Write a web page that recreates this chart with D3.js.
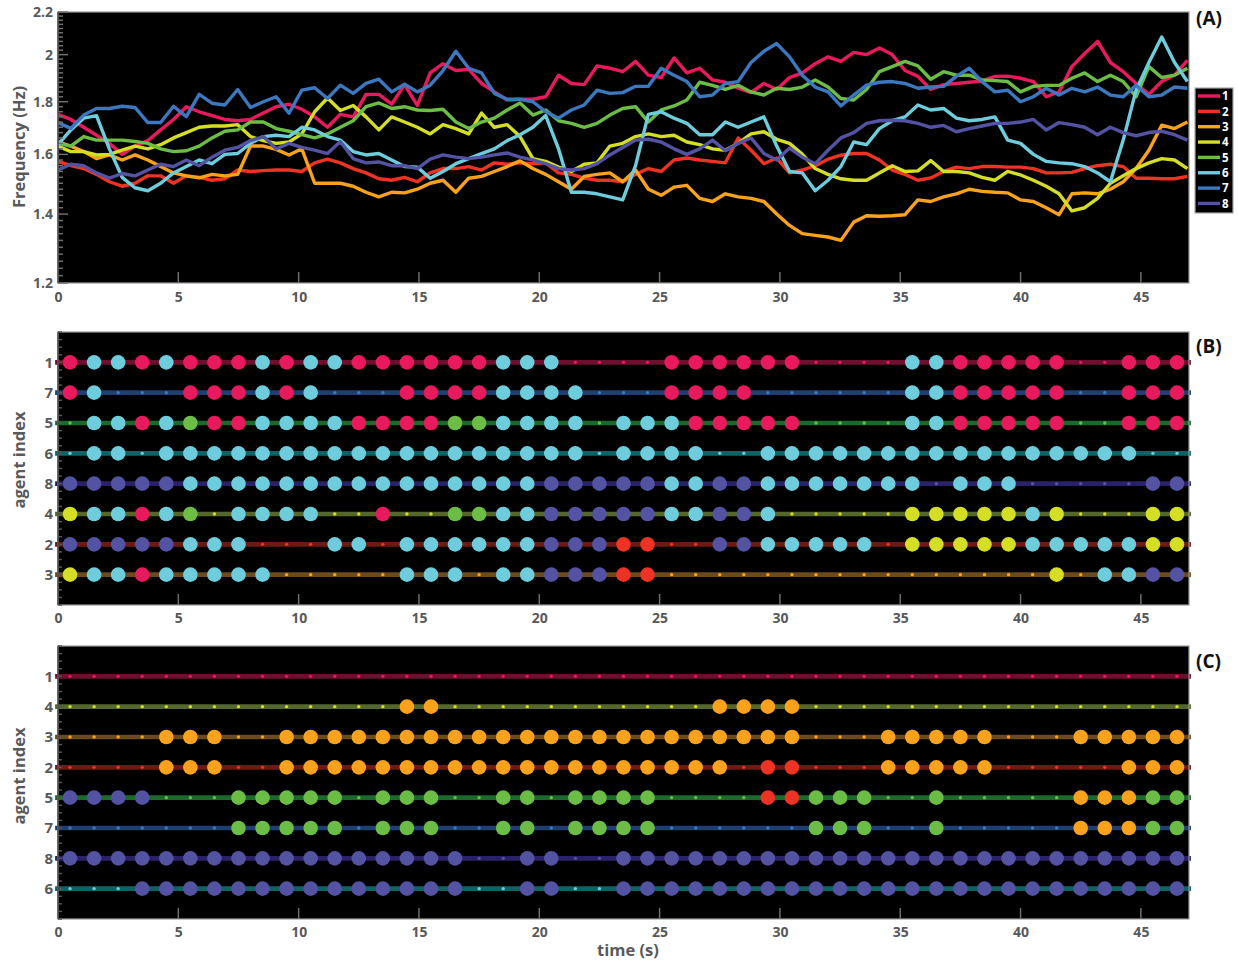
<!DOCTYPE html>
<html>
<head>
<meta charset="utf-8">
<script src="https://cdn.jsdelivr.net/npm/d3@7"></script>
<style>
  body { margin: 0; background: #fff; }
  svg { display: block; }
  text { font-family: "Open Sans", "DejaVu Sans", sans-serif; font-weight: 700; }
</style>
</head>
<body>
<svg id="chart" width="1238" height="963"></svg>
<script>
// ---- agents -------------------------------------------------------------
const agentIds = [1, 2, 3, 4, 5, 6, 7, 8];
const agentColors = ["#e8195c", "#ee3224", "#faa21b", "#d4de24", "#6cbd45", "#6dcddc", "#3b78bf", "#5352a3"];
const trackColors = ["#6d0f2f", "#6e1a12", "#6d4a1c", "#56672b", "#1b6a2c", "#0e6464", "#1f3f72", "#2a2268"];

// ---- panel A: instantaneous frequency of each agent (Hz), one sample every 8/15 s
const sampleStep = 8 / 15;
const freqAgent1 = [1.75,1.73,1.70,1.67,1.64,1.60,1.63,1.65,1.69,1.73,
  1.78,1.76,1.745,1.73,1.725,1.73,1.755,1.78,1.79,1.77,
  1.74,1.70,1.75,1.74,1.83,1.83,1.79,1.87,1.785,1.92,
  1.96,1.93,1.935,1.875,1.84,1.807,1.81,1.81,1.82,1.91,
  1.875,1.87,1.95,1.94,1.925,1.97,1.91,1.90,1.985,1.92,
  1.94,1.89,1.88,1.855,1.837,1.875,1.85,1.90,1.92,1.96,
  1.99,1.97,2.01,2.0,2.03,2.0,1.93,1.905,1.85,1.87,
  1.875,1.88,1.885,1.905,1.906,1.897,1.883,1.82,1.84,1.947,
  2.005,2.06,1.965,1.925,1.875,1.83,1.883,1.91,1.975];
const freqAgent2 = [1.575,1.56,1.55,1.53,1.505,1.49,1.50,1.525,1.525,1.50,
  1.525,1.52,1.51,1.515,1.545,1.54,1.543,1.545,1.545,1.54,
  1.57,1.583,1.57,1.55,1.535,1.515,1.51,1.52,1.505,1.535,
  1.55,1.55,1.557,1.545,1.57,1.565,1.57,1.567,1.57,1.535,
  1.53,1.517,1.51,1.51,1.505,1.53,1.55,1.54,1.58,1.587,
  1.58,1.575,1.57,1.66,1.615,1.567,1.587,1.535,1.545,1.56,
  1.583,1.597,1.603,1.603,1.58,1.545,1.53,1.51,1.518,1.54,
  1.555,1.55,1.557,1.557,1.555,1.555,1.55,1.535,1.535,1.537,
  1.55,1.56,1.565,1.557,1.517,1.517,1.515,1.515,1.523];
const freqAgent3 = [1.645,1.63,1.61,1.585,1.598,1.58,1.598,1.58,1.557,1.535,
  1.525,1.518,1.53,1.525,1.53,1.63,1.63,1.618,1.598,1.62,
  1.50,1.50,1.50,1.49,1.47,1.455,1.47,1.468,1.48,1.50,
  1.51,1.47,1.517,1.523,1.54,1.557,1.577,1.55,1.53,1.505,
  1.48,1.523,1.53,1.535,1.505,1.545,1.48,1.46,1.487,1.493,
  1.45,1.44,1.465,1.455,1.45,1.44,1.40,1.365,1.34,1.335,
  1.33,1.32,1.375,1.395,1.393,1.395,1.398,1.445,1.44,1.455,
  1.465,1.48,1.473,1.47,1.468,1.445,1.44,1.42,1.398,1.465,
  1.468,1.465,1.48,1.505,1.55,1.615,1.708,1.695,1.72];
const freqAgent4 = [1.63,1.61,1.61,1.598,1.60,1.615,1.63,1.62,1.635,1.66,
  1.68,1.70,1.705,1.705,1.71,1.665,1.65,1.64,1.645,1.675,
  1.76,1.815,1.765,1.785,1.74,1.69,1.74,1.72,1.70,1.675,
  1.71,1.695,1.675,1.755,1.70,1.71,1.665,1.585,1.575,1.555,
  1.54,1.565,1.57,1.63,1.64,1.665,1.675,1.665,1.67,1.645,
  1.635,1.62,1.615,1.64,1.675,1.683,1.655,1.64,1.60,1.55,
  1.53,1.515,1.51,1.51,1.535,1.56,1.54,1.542,1.578,1.54,
  1.54,1.535,1.52,1.51,1.54,1.528,1.51,1.49,1.465,1.41,
  1.42,1.45,1.50,1.525,1.55,1.57,1.585,1.58,1.55];
const freqAgent5 = [1.64,1.63,1.665,1.652,1.652,1.652,1.647,1.64,1.62,1.61,
  1.613,1.63,1.66,1.685,1.69,1.72,1.72,1.695,1.685,1.672,
  1.66,1.675,1.70,1.725,1.78,1.795,1.773,1.78,1.767,1.765,
  1.77,1.72,1.695,1.72,1.735,1.767,1.795,1.747,1.767,1.725,
  1.715,1.70,1.715,1.747,1.773,1.78,1.72,1.767,1.783,1.807,
  1.88,1.867,1.85,1.867,1.84,1.827,1.855,1.85,1.86,1.89,
  1.86,1.813,1.807,1.85,1.925,1.947,1.97,1.95,1.893,1.925,
  1.91,1.91,1.89,1.887,1.883,1.84,1.863,1.867,1.867,1.897,
  1.92,1.883,1.91,1.883,1.82,1.947,1.90,1.91,1.94];
const freqAgent6 = [1.635,1.69,1.735,1.745,1.62,1.52,1.485,1.475,1.50,1.535,
  1.557,1.58,1.567,1.60,1.603,1.64,1.665,1.67,1.665,1.70,
  1.69,1.665,1.652,1.61,1.598,1.603,1.58,1.557,1.555,1.517,
  1.54,1.567,1.585,1.603,1.62,1.65,1.672,1.70,1.745,1.62,
  1.47,1.47,1.465,1.455,1.445,1.56,1.75,1.76,1.735,1.715,
  1.672,1.672,1.72,1.70,1.72,1.74,1.63,1.54,1.535,1.475,
  1.51,1.557,1.645,1.635,1.695,1.725,1.74,1.787,1.767,1.773,
  1.735,1.725,1.73,1.74,1.652,1.64,1.60,1.575,1.57,1.567,
  1.557,1.535,1.505,1.652,1.847,1.965,2.08,1.965,1.883];
const freqAgent7 = [1.718,1.696,1.747,1.773,1.773,1.782,1.777,1.718,1.718,1.782,
  1.741,1.83,1.794,1.787,1.85,1.777,1.80,1.82,1.754,1.847,
  1.857,1.813,1.868,1.834,1.875,1.893,1.84,1.872,1.84,1.868,
  1.93,2.015,1.94,1.92,1.834,1.81,1.81,1.80,1.76,1.735,
  1.767,1.787,1.847,1.834,1.837,1.863,1.863,1.94,1.91,1.883,
  1.82,1.827,1.875,1.883,1.965,2.015,2.05,1.99,1.91,1.86,
  1.84,1.783,1.827,1.868,1.88,1.883,1.875,1.855,1.86,1.863,
  1.905,1.94,1.883,1.84,1.847,1.80,1.82,1.855,1.827,1.855,
  1.84,1.86,1.827,1.82,1.868,1.82,1.827,1.86,1.855];
const freqAgent8 = [1.545,1.565,1.56,1.535,1.517,1.533,1.525,1.545,1.565,1.557,
  1.58,1.56,1.59,1.615,1.625,1.65,1.665,1.62,1.64,1.625,
  1.615,1.603,1.647,1.585,1.57,1.573,1.56,1.56,1.55,1.583,
  1.598,1.59,1.585,1.59,1.598,1.605,1.59,1.58,1.567,1.55,
  1.545,1.55,1.567,1.598,1.625,1.652,1.655,1.645,1.62,1.60,
  1.62,1.652,1.613,1.64,1.66,1.603,1.58,1.623,1.59,1.567,
  1.615,1.66,1.68,1.715,1.725,1.727,1.725,1.715,1.70,1.707,
  1.683,1.695,1.705,1.715,1.715,1.72,1.73,1.69,1.718,1.71,
  1.70,1.672,1.70,1.68,1.668,1.68,1.685,1.672,1.652];
const freqSeries = [freqAgent1, freqAgent2, freqAgent3, freqAgent4, freqAgent5, freqAgent6, freqAgent7, freqAgent8];

// ---- panels B and C: cluster membership per 1 s window
// one character per window (t = 0.5 ... 46.5 s), written in blocks of ten windows;
// digit = agent whose colour marks the cluster, 0 = unclustered
const rowOrderB = [1, 7, 5, 6, 8, 4, 2, 3];
const clustersB1 = ["1661611161", "6611111166", "6000011111", "1000066111", "1100111"].join("");
const clustersB7 = ["1600011161", "6000111166", "6600011110", "0000066111", "1100111"].join("");
const clustersB5 = ["0661651166", "6611115566", "6606661111", "1000066111", "1100111"].join("");
const clustersB6 = ["0660666666", "6666666666", "6606666006", "6666666666", "6666600"].join("");
const clustersB8 = ["8888866666", "6666666666", "8888866886", "6666660666", "0000088"].join("");
const clustersB4 = ["4661650666", "6001005566", "8888866886", "0000044444", "6400044"].join("");
const clustersB2 = ["8888866600", "0660666666", "8882200886", "6666044444", "6666644"].join("");
const clustersB3 = ["4661666660", "0000666066", "8882200000", "0000000000", "0406688"].join("");
const clustersB = [clustersB1, clustersB7, clustersB5, clustersB6, clustersB8, clustersB4, clustersB2, clustersB3];

const rowOrderC = [1, 4, 3, 2, 5, 7, 8, 6];
const clustersC1 = ["0000000000", "0000000000", "0000000000", "0000000000", "0000000"].join("");
const clustersC4 = ["0000000000", "0000330000", "0000000333", "3000000000", "0000000"].join("");
const clustersC3 = ["0000333003", "3333333333", "3333333333", "3000333330", "0033333"].join("");
const clustersC2 = ["0000333003", "3333333333", "3333333302", "2000333330", "0000333"].join("");
const clustersC5 = ["8888000555", "5505550055", "0555500002", "2555005000", "0033355"].join("");
const clustersC7 = ["0000000555", "5505550055", "0555500000", "0555005000", "0033355"].join("");
const clustersC8 = ["8888888888", "8888888008", "8008888888", "8888888888", "8888888"].join("");
const clustersC6 = ["0008888888", "8888888008", "8008888888", "8888888888", "8888888"].join("");
const clustersC = [clustersC1, clustersC4, clustersC3, clustersC2, clustersC5, clustersC7, clustersC8, clustersC6];

// ---- axes
const timeTicks = [0, 5, 10, 15, 20, 25, 30, 35, 40, 45];
const freqTicks = [1.2, 1.4, 1.6, 1.8, 2, 2.2];
const panelLabels = ["(A)", "(B)", "(C)"];

// ---- layout
const svg = d3.select("#chart");
const plotLeft = 58, plotRight = 1189;
const panelA = { top: 12, bottom: 283 };
const panelB = { top: 332, bottom: 605 };
const panelC = { top: 646, bottom: 919 };
const axisGrey = "#6e6e6e";
const textGrey = "#58595b";

const x = d3.scaleLinear().domain([0, 47]).range([plotLeft, plotRight]);

function drawFrame(p) {
  svg.append("rect")
    .attr("x", plotLeft).attr("y", p.top)
    .attr("width", plotRight - plotLeft).attr("height", p.bottom - p.top)
    .attr("fill", "#000");
}

function drawBorder(p) {
  svg.append("rect")
    .attr("x", plotLeft).attr("y", p.top)
    .attr("width", plotRight - plotLeft).attr("height", p.bottom - p.top)
    .attr("fill", "none").attr("stroke", "#9a9a9a").attr("stroke-width", 1.2);
}

function drawTimeAxis(p, labelDy) {
  const g = svg.append("g").attr("transform", `translate(0,${p.bottom})`);
  const axis = d3.axisBottom(x).tickValues(timeTicks).tickSize(0).tickPadding(0).tickFormat(d3.format("d"));
  g.call(axis);
  g.select(".domain").remove();
  g.selectAll("text")
    .attr("dy", null).attr("y", labelDy)
    .attr("fill", textGrey).attr("font-size", 14);
  // inward tick marks
  svg.append("g").selectAll("line")
    .data(timeTicks.filter(t => t > 0))
    .join("line")
    .attr("x1", d => x(d)).attr("x2", d => x(d))
    .attr("y1", p.bottom).attr("y2", p.bottom - 11)
    .attr("stroke", axisGrey).attr("stroke-width", 1.5);
}

function drawPanelLabel(text, y) {
  svg.append("text").attr("x", 1196).attr("y", y)
    .attr("font-size", 19).attr("fill", "#111").text(text);
}

function drawYLabel(text, cy) {
  svg.append("text")
    .attr("transform", `translate(25,${cy}) rotate(-90)`)
    .attr("text-anchor", "middle")
    .attr("font-size", 16.5).attr("fill", textGrey)
    .text(text);
}

// ===================== panel A =====================
const yA = d3.scaleLog().domain([1.2, 2.2]).range([panelA.bottom, panelA.top]);
drawFrame(panelA);

const defs = svg.append("defs");
defs.append("clipPath").attr("id", "clipA").append("rect")
  .attr("x", plotLeft).attr("y", panelA.top)
  .attr("width", plotRight - plotLeft).attr("height", panelA.bottom - panelA.top);

const freqLine = d3.line()
  .x((d, i) => x(i * sampleStep))
  .y(d => yA(d))
  .curve(d3.curveLinear);

svg.append("g").attr("clip-path", "url(#clipA)")
  .selectAll("path")
  .data(freqSeries)
  .join("path")
  .attr("d", d => freqLine(d))
  .attr("fill", "none")
  .attr("stroke", (d, i) => agentColors[i])
  .attr("stroke-width", 3.4)
  .attr("stroke-linejoin", "round");

drawBorder(panelA);

// y axis (log scale) with labelled major ticks and 0.02 Hz minor ticks
const yAxisA = svg.append("g").attr("transform", `translate(${plotLeft},0)`);
yAxisA.call(d3.axisLeft(yA).tickValues(freqTicks).tickSize(0).tickPadding(5)
  .tickFormat(d => String(+d.toFixed(1))));
yAxisA.select(".domain").remove();
yAxisA.selectAll("text").attr("fill", textGrey).attr("font-size", 14);

const minorFreq = d3.range(60, 111).map(k => k / 50).filter(v => !freqTicks.some(t => Math.abs(t - v) < 1e-6));
svg.append("g").selectAll("line").data(minorFreq).join("line")
  .attr("x1", plotLeft).attr("x2", plotLeft + 5)
  .attr("y1", d => yA(d)).attr("y2", d => yA(d))
  .attr("stroke", axisGrey).attr("stroke-width", 1.5);
svg.append("g").selectAll("line").data(freqTicks).join("line")
  .attr("x1", plotLeft).attr("x2", plotLeft + 10)
  .attr("y1", d => yA(d)).attr("y2", d => yA(d))
  .attr("stroke", axisGrey).attr("stroke-width", 1.5);
svg.append("line").attr("x1", plotLeft).attr("x2", plotLeft)
  .attr("y1", panelA.top).attr("y2", panelA.bottom)
  .attr("stroke", "#4a4a4a").attr("stroke-width", 1.5);

drawTimeAxis(panelA, 19);
drawYLabel("Frequency (Hz)", 147);
drawPanelLabel(panelLabels[0], 25);

// legend
const legend = svg.append("g");
const legendTop = 88, legendRowGap = 15.35;
legend.append("rect").attr("x", 1195).attr("y", legendTop)
  .attr("width", 38).attr("height", 125)
  .attr("fill", "#000").attr("stroke", "#a8a8a8").attr("stroke-width", 1.2);
const legendRows = legend.selectAll("g.entry").data(agentIds).join("g").attr("class", "entry")
  .attr("transform", (d, i) => `translate(0,${legendTop + 8 + i * legendRowGap})`);
legendRows.append("line")
  .attr("x1", 1198).attr("x2", 1220).attr("y1", 0).attr("y2", 0)
  .attr("stroke", (d, i) => agentColors[i]).attr("stroke-width", 3.4);
legendRows.append("text")
  .attr("x", 1222).attr("y", 4.2)
  .attr("font-size", 11.5).attr("fill", "#fff")
  .text(d => d);

// ===================== panels B and C =====================
function drawClusterPanel(p, rowOrder, clusterRows, labelY, letter, letterY) {
  const yRow = d3.scaleLinear().domain([0, 9]).range([p.top, p.bottom]);
  drawFrame(p);

  const windows = d3.range(47);
  rowOrder.forEach((agent, r) => {
    const cy = yRow(r + 1);
    const codes = clusterRows[r].split("").map(Number);
    svg.append("line")
      .attr("x1", x(-0.12)).attr("x2", x(47.08))
      .attr("y1", cy).attr("y2", cy)
      .attr("stroke", trackColors[agent - 1]).attr("stroke-width", 4.6);
    const g = svg.append("g");
    g.selectAll("circle").data(windows).join("circle")
      .attr("cx", i => x(i + 0.5))
      .attr("cy", cy)
      .attr("r", i => codes[i] === 0 ? 1.7 : 7.3)
      .attr("fill", i => codes[i] === 0 ? agentColors[agent - 1] : agentColors[codes[i] - 1]);
  });

  drawBorder(p);

  // agent index axis
  const yAxis = svg.append("g").attr("transform", `translate(${plotLeft},0)`);
  yAxis.call(d3.axisLeft(yRow).tickValues(d3.range(1, 9)).tickSize(0).tickPadding(5)
    .tickFormat(d => rowOrder[d - 1]));
  yAxis.select(".domain").remove();
  yAxis.selectAll("text").attr("fill", textGrey).attr("font-size", 15);

  const minor = d3.range(0, 37).map(k => k / 4);
  svg.append("g").selectAll("line").data(minor).join("line")
    .attr("x1", plotLeft).attr("x2", plotLeft + 4)
    .attr("y1", d => yRow(d)).attr("y2", d => yRow(d))
    .attr("stroke", "#555").attr("stroke-width", 1.5);
  svg.append("line").attr("x1", plotLeft).attr("x2", plotLeft)
    .attr("y1", p.top).attr("y2", p.bottom)
    .attr("stroke", "#4a4a4a").attr("stroke-width", 1.5);

  drawTimeAxis(p, 18);
  drawYLabel("agent index", labelY);
  drawPanelLabel(letter, letterY);
}

drawClusterPanel(panelB, rowOrderB, clustersB, 460, panelLabels[1], 353);
drawClusterPanel(panelC, rowOrderC, clustersC, 776, panelLabels[2], 668);

svg.append("text")
  .attr("x", 628).attr("y", 956)
  .attr("text-anchor", "middle")
  .attr("font-size", 16.5).attr("fill", textGrey)
  .text("time (s)");
</script>
</body>
</html>
